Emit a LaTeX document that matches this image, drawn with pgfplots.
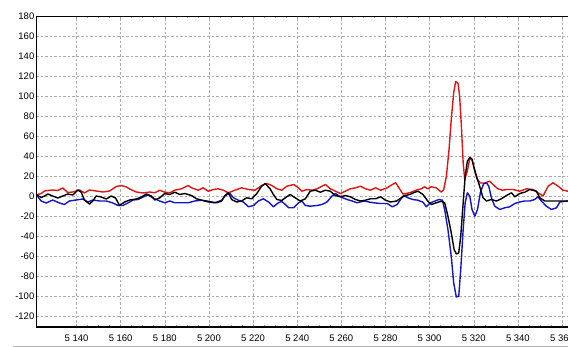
\documentclass[border=0pt]{standalone}
\usepackage{pgfplots}
\pgfplotsset{compat=1.18}
\usepackage{fontspec}
\setmainfont{Liberation Sans}
\definecolor{cred}{RGB}{225,20,20}
\definecolor{cblue}{RGB}{20,20,200}
\begin{document}
\begin{tikzpicture}
\useasboundingbox (-36bp,-20bp) rectangle (532bp,327bp);
\begin{axis}[
  at={(0,0)}, anchor=south west,
  scale only axis,
  width=532bp, height=311bp,
  xmin=5121.65, xmax=5362.7,
  ymin=-131, ymax=180,
  xtick={5140,5160,...,5360},
  ytick={-120,-100,...,180},
  minor x tick num=3,
  grid=major,
  major grid style={gray!65, dash pattern=on 2.5bp off 2bp, line width=0.5bp},
  tick align=inside,
  major tick length=3bp, minor tick length=2bp,
  tick style={gray!70, line width=0.5bp},
  ytick style={draw=none},
  axis line style={draw=none},
  font=\fontsize{9.5bp}{11bp}\selectfont,
  /pgf/number format/assume math mode=true,
  /pgf/number format/1000 sep={\ },
  xticklabel style={yshift=-4bp},
  yticklabel style={inner sep=1.5bp},
  every axis plot/.append style={line width=1.4bp, line join=round, mark=none},
]
\addplot[cred] coordinates {
(5121.7,1) (5124.0,2.5) (5125.5,5) (5127.0,5.5) (5129.2,6) (5131.5,5.5) (5133.8,8) (5136.0,3.5) (5138.3,4) (5141.4,6) (5143.6,3) (5145.9,6) (5148.9,5) (5152.0,4) (5155.0,5) (5158.0,9.5) (5160.3,10.5) (5162.6,9) (5164.1,7) (5167.1,4) (5170.1,3) (5173.2,4) (5175.5,3.2) (5177.7,5.8) (5180.0,3.8) (5182.3,3.2) (5184.5,5.8) (5187.6,7.2) (5190.6,10.5) (5192.1,8.2) (5195.2,5.8) (5197.4,8.2) (5199.7,4.8) (5202.0,6.5) (5204.2,7.2) (5206.5,5.8) (5208.8,3.2) (5211.8,5.8) (5214.8,8.2) (5217.9,6.5) (5220.9,5.8) (5223.9,10.5) (5226.2,12.5) (5228.5,10.5) (5230.8,7.2) (5233.0,5.8) (5235.3,9.8) (5238.4,11.5) (5240.6,8.2) (5242.1,4.8) (5244.4,6.5) (5246.7,5.8) (5249.0,7.2) (5251.2,9.8) (5252.8,11.5) (5255.0,7.2) (5257.3,4.8) (5259.6,2.5) (5261.8,4.8) (5264.1,7.2) (5266.4,8.2) (5268.7,9.8) (5270.9,7.2) (5273.2,5.8) (5275.5,8.2) (5277.8,5.8) (5280.8,8.2) (5283.1,11.5) (5284.6,13.2) (5286.1,8.2) (5287.9,2) (5289.4,2.5) (5291.7,3.8) (5293.9,5.8) (5296.2,7.2) (5297.7,9.2) (5299.2,7.2) (5300.8,9.2) (5303.0,8.2) (5305.3,3.8) (5306.4,6.5) (5307.6,19.8) (5308.8,46.5) (5309.8,76.5) (5310.9,103.2) (5311.8,114.5) (5312.9,112.5) (5313.6,99.8) (5314.4,69.8) (5315.2,33.2) (5315.9,16.5) (5317.1,25) (5318.2,38) (5319.2,36) (5320.2,27) (5321.5,17) (5323.0,13) (5325.0,13) (5327.2,14.8) (5329.5,9.8) (5331.0,7.2) (5333.0,5.8) (5335.0,6.5) (5337.8,6.5) (5340.8,4.8) (5343.9,7.2) (5346.9,6.5) (5349.1,3.2) (5351.4,0) (5353.7,9.8) (5355.9,13.2) (5358.2,9.8) (5360.5,5.8) (5362.7,4.8) (5366,5)
};
\addplot[cblue] coordinates {
(5121.7,1.5) (5124.0,-5) (5126.3,-7) (5129.2,-4) (5132.3,-7) (5134.5,-8.5) (5136.8,-5) (5139.8,-4) (5142.9,-3) (5145.1,-6) (5147.4,-4) (5150.5,-5) (5153.5,-5) (5156.5,-7) (5158.8,-9.5) (5161.0,-9.5) (5163.3,-7) (5165.6,-4) (5167.9,-3.5) (5170.1,-1) (5172.4,1) (5174.7,-2) (5177.7,-5) (5180.0,-6.8) (5182.3,-5) (5184.5,-6.8) (5187.6,-6.8) (5190.6,-6.8) (5193.6,-5) (5196.7,-4.2) (5199.7,-6) (5202.7,-6.8) (5205.8,-4.2) (5207.3,0.5) (5209.5,2.5) (5211.1,-1.8) (5213.3,-4.2) (5215.6,-6) (5217.9,-10.8) (5220.2,-9.5) (5222.4,-5) (5224.7,-2.8) (5227.0,-6) (5229.2,-10.8) (5231.5,-6.8) (5233.0,-5.5) (5234.6,-8.5) (5236.1,-11.8) (5238.4,-11.8) (5240.6,-6.8) (5242.1,-5) (5243.7,-9.5) (5245.9,-10.2) (5249.0,-9.5) (5251.2,-8.5) (5253.5,-6) (5255.8,0) (5257.3,2.5) (5259.6,-0.8) (5262.6,-3.5) (5264.9,-5) (5267.1,-6.8) (5270.2,-5) (5272.5,-6) (5274.7,-6.8) (5277.8,-7.5) (5280.8,-7.5) (5283.1,-10.8) (5285.3,-8.5) (5286.8,-3.5) (5288.2,0.5) (5290.4,-2) (5292.4,-3.5) (5294.7,-4.2) (5297.0,-6.2) (5298.5,-10.8) (5300.3,-6.8) (5302.3,-5.2) (5304.2,-3.5) (5305.8,-4.2) (5306.8,-13.5) (5308.3,-33.5) (5309.8,-60.2) (5310.9,-86.8) (5312.1,-101) (5313.2,-100.2) (5314.1,-73.5) (5315.2,-33.5) (5316.1,-6.8) (5317.1,3.2) (5318.2,-0.2) (5319.2,-13.5) (5320.5,-20.2) (5321.7,-13.5) (5323.0,3.5) (5324.5,12.5) (5325.8,13) (5326.8,9.8) (5328.0,-1.8) (5329.5,-10.2) (5331.8,-13.5) (5334.0,-11.8) (5336.3,-10.8) (5338.6,-7.5) (5340.8,-6) (5343.1,-5) (5345.4,-5) (5347.6,-3.5) (5349.1,-0.8) (5350.6,-5) (5352.9,-10.2) (5355.2,-13.5) (5357.5,-11.8) (5359.0,-6) (5362.7,-5) (5366,-5)
};
\addplot[black] coordinates {
(5121.7,1.5) (5124.0,-1.5) (5125.5,0) (5127.0,2) (5129.2,0) (5131.5,-2) (5133.8,0) (5136.0,2) (5138.3,1) (5140.6,6) (5142.1,4) (5143.6,-4) (5145.9,-8) (5147.4,-5) (5148.9,0) (5151.2,-1) (5153.5,-3) (5155.8,0) (5157.7,-2) (5159.5,-9.5) (5161.8,-6) (5164.1,-4) (5167.1,-3) (5169.4,-1) (5171.7,2) (5173.9,0) (5175.5,-4) (5177.7,-1.8) (5180.0,2.5) (5182.3,1.5) (5184.5,3.8) (5186.8,1.5) (5189.1,2.5) (5192.1,0.5) (5194.4,-2.8) (5196.7,-4.2) (5198.9,-5) (5201.2,-6) (5203.5,-6.8) (5205.8,-5) (5207.3,0.5) (5208.8,3.2) (5210.3,-3.5) (5212.6,-6) (5214.8,-5) (5217.1,-1.8) (5219.4,-2.8) (5221.7,2.5) (5223.9,9.8) (5225.5,12.5) (5227.7,7.2) (5229.2,1.5) (5230.8,-3.5) (5233.0,-4.5) (5234.6,-1.8) (5236.8,1.5) (5239.1,-1.8) (5241.4,-5) (5243.7,-2.8) (5245.9,4.8) (5248.2,5.8) (5250.5,3.8) (5252.8,5.8) (5255.0,4.8) (5257.3,0.5) (5259.6,-0.8) (5261.8,0.5) (5264.1,-0.8) (5266.4,-3.5) (5268.7,-5) (5270.9,-4.2) (5273.2,-2.8) (5275.5,-2.8) (5277.8,-0.8) (5280.0,-4.2) (5282.3,-6) (5285.0,-5) (5287.0,-2) (5289.0,0.5) (5291.0,1.5) (5293.0,3.5) (5294.7,4.8) (5297.0,1.5) (5299.2,-5.2) (5300.8,-8.5) (5303.0,-6.8) (5305.3,-5.2) (5306.8,-6.8) (5308.3,-20.2) (5309.8,-36.8) (5311.1,-53.5) (5312.1,-58) (5313.2,-56.8) (5314.1,-40.2) (5315.2,-6.8) (5316.1,19.8) (5317.1,34.8) (5318.2,38.5) (5319.2,37) (5320.2,28) (5321.3,19) (5322.5,11) (5324.2,-1.8) (5325.7,-5) (5328.0,-3.5) (5330.3,-5) (5332.5,-2.8) (5334.8,0.5) (5337.1,3.2) (5338.6,-0.8) (5340.8,2.5) (5343.1,3.8) (5345.4,6.5) (5348.4,4.8) (5349.9,-1.8) (5352.2,-5) (5355.2,-5) (5358.2,-5) (5362.7,-5) (5366,-5)
};
\draw[black, line width=0.9bp] (rel axis cs:0,1) -- (rel axis cs:1,1);
\draw[black, line width=2bp] (rel axis cs:0,1) -- (rel axis cs:0,0) -- (rel axis cs:1,0);
\end{axis}
\draw[gray!60, line width=0.8bp] (-23bp,-19bp) -- (532bp,-19bp);
\end{tikzpicture}
\end{document}
